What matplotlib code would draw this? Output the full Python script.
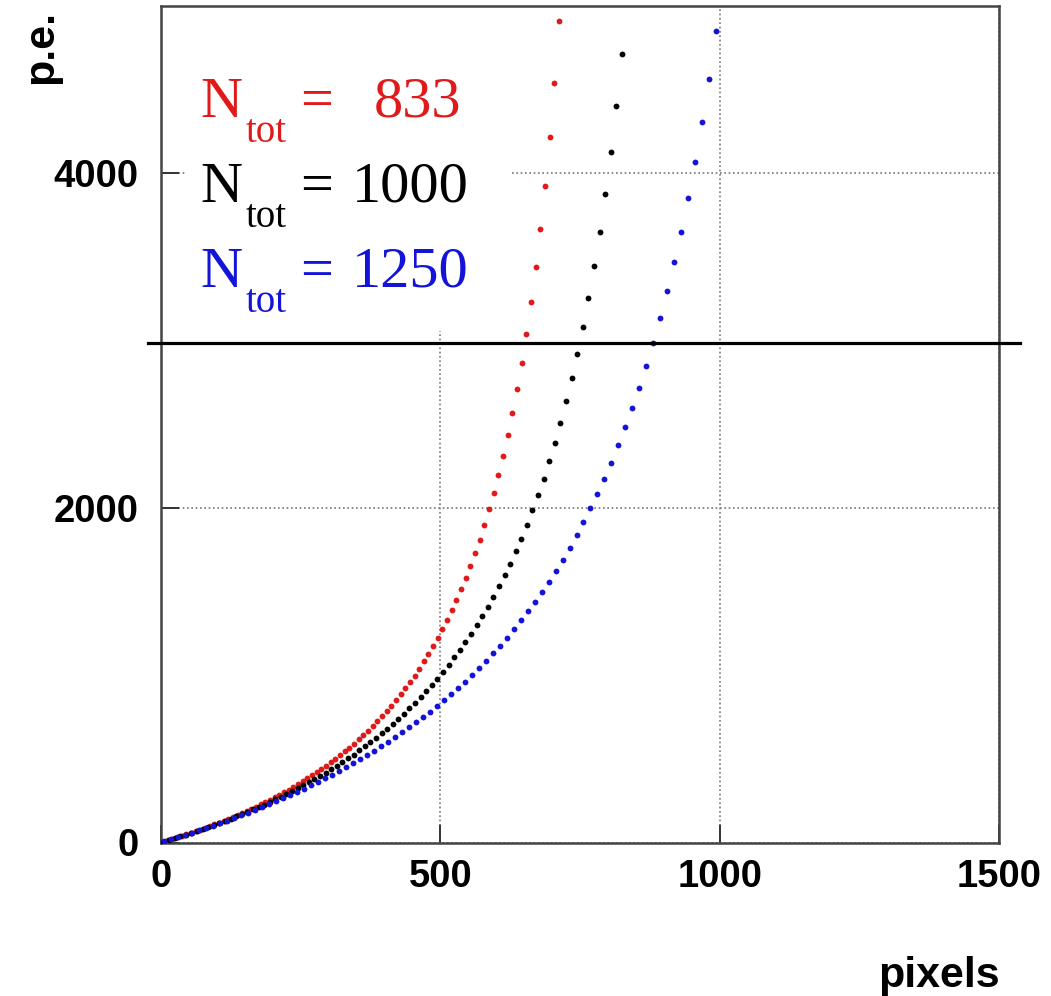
import matplotlib
matplotlib.use("Agg")
import matplotlib.pyplot as plt
from matplotlib.patches import Rectangle

# fired pixels vs. photo-electrons for three SiPM sizes
n_tot = [833, 1000, 1250]
colors = ["#e01a1a", "black", "#1414d8"]

pix_833 = [4.2, 12.5, 20.8, 29.2, 37.5, 45.8, 54.1, 62.5, 70.8, 79.1,
           87.5, 95.8, 104.1, 112.5, 120.8, 129.1, 137.4, 145.8, 154.1, 162.4,
           170.8, 179.1, 187.4, 195.8, 204.1, 212.4, 220.7, 229.1, 237.4, 245.7,
           254.1, 262.4, 270.7, 279.1, 287.4, 295.7, 304.0, 312.4, 320.7, 329.0,
           337.4, 345.7, 354.0, 362.4, 370.7, 379.0, 387.3, 395.7, 404.0, 412.3,
           420.7, 429.0, 437.3, 445.7, 454.0, 462.3, 470.6, 479.0, 487.3, 495.6,
           504.0, 512.3, 520.6, 529.0, 537.3, 545.6, 553.9, 562.3, 570.6, 578.9,
           587.3, 595.6, 603.9, 612.3, 620.6, 628.9, 637.2, 645.6, 653.9, 662.2,
           670.6, 678.9, 687.2, 695.6, 703.9, 712.2]
pe_833 = [4, 13, 21, 30, 39, 48, 58, 68, 77, 87,
          98, 108, 119, 130, 141, 153, 165, 177, 189, 202,
          215, 228, 242, 256, 270, 285, 300, 316, 332, 349,
          366, 383, 401, 420, 439, 458, 479, 500, 521, 544,
          567, 591, 616, 641, 668, 695, 724, 754, 784, 816,
          850, 885, 921, 958, 998, 1039, 1082, 1127, 1174, 1224,
          1276, 1331, 1388, 1449, 1513, 1581, 1654, 1730, 1811, 1898,
          1991, 2090, 2196, 2310, 2434, 2567, 2712, 2869, 3041, 3230,
          3439, 3670, 3927, 4215, 4541, 4912]

pix_1000 = [5, 15, 25, 35, 45, 55, 65, 75, 85, 95,
            105, 115, 125, 135, 145, 155, 165, 175, 185, 195,
            205, 215, 225, 235, 245, 255, 265, 275, 285, 295,
            305, 315, 325, 335, 345, 355, 365, 375, 385, 395,
            405, 415, 425, 435, 445, 455, 465, 475, 485, 495,
            505, 515, 525, 535, 545, 555, 565, 575, 585, 595,
            605, 615, 625, 635, 645, 655, 665, 675, 685, 695,
            705, 715, 725, 735, 745, 755, 765, 775, 785, 795,
            805, 815, 825]
pe_1000 = [5, 15, 26, 36, 47, 58, 70, 81, 93, 105,
           118, 130, 143, 156, 170, 183, 198, 212, 227, 242,
           258, 274, 290, 307, 325, 342, 361, 379, 398, 418,
           439, 460, 482, 504, 526, 550, 575, 600, 626, 653,
           681, 710, 739, 770, 802, 835, 869, 905, 942, 980,
           1020, 1062, 1106, 1150, 1198, 1247, 1299, 1353, 1410, 1469,
           1532, 1598, 1666, 1740, 1817, 1898, 1985, 2077, 2174, 2278,
           2390, 2509, 2636, 2774, 2922, 3082, 3255, 3445, 3651, 3878,
           4128, 4405, 4714]

pix_1250 = [6.25, 18.75, 31.25, 43.75, 56.25, 68.75, 81.25, 93.75, 106.25, 118.75,
            131.25, 143.75, 156.25, 168.75, 181.25, 193.75, 206.25, 218.75, 231.25, 243.75,
            256.25, 268.75, 281.25, 293.75, 306.25, 318.75, 331.25, 343.75, 356.25, 368.75,
            381.25, 393.75, 406.25, 418.75, 431.25, 443.75, 456.25, 468.75, 481.25, 493.75,
            506.25, 518.75, 531.25, 543.75, 556.25, 568.75, 581.25, 593.75, 606.25, 618.75,
            631.25, 643.75, 656.25, 668.75, 681.25, 693.75, 706.25, 718.75, 731.25, 743.75,
            756.25, 768.75, 781.25, 793.75, 806.25, 818.75, 831.25, 843.75, 856.25, 868.75,
            881.25, 893.75, 906.25, 918.75, 931.25, 943.75, 956.25, 968.75, 981.25, 993.75]
pe_1250 = [6, 19, 32, 45, 59, 73, 87, 101, 116, 131,
           147, 162, 179, 195, 212, 229, 247, 265, 284, 303,
           322, 342, 363, 384, 406, 428, 451, 474, 498, 523,
           549, 575, 602, 630, 658, 688, 719, 750, 783, 816,
           851, 887, 924, 962, 1002, 1044, 1086, 1131, 1177, 1225,
           1275, 1327, 1382, 1438, 1497, 1559, 1624, 1691, 1762, 1836,
           1915, 1997, 2083, 2175, 2271, 2373, 2481, 2596, 2718, 2848,
           2987, 3136, 3295, 3467, 3652, 3852, 4069, 4306, 4564, 4848]

threshold = 2985
x_ticks = [0, 500, 1000, 1500]
y_ticks = [0, 2000, 4000]

W, H = 1051, 996
fig = plt.figure(figsize=(W / 100, H / 100), dpi=100)
ax = fig.add_axes([160.7 / W, 1 - 842.5 / H, 838.6 / W, 836.5 / H])
ax.set_xlim(0, 1500)
ax.set_ylim(0, 5000)
ax.set_axisbelow(True)

sans = "Liberation Sans"
ax.set_xticks(x_ticks)
ax.set_yticks(y_ticks)
ax.tick_params(direction="in", length=13, width=1.4, color="#333333",
               labelsize=27.5, top=False, right=False)
ax.tick_params(axis="x", pad=12)
ax.tick_params(axis="y", pad=16)
for lab in ax.get_xticklabels() + ax.get_yticklabels():
    lab.set_fontfamily(sans)
    lab.set_fontweight("bold")
ax.grid(True, color="#777777", linestyle=(0, (1, 1.6)), linewidth=1.2)
for s in ax.spines.values():
    s.set_color("#444444")
    s.set_linewidth(1.8)

ax.set_xlabel("pixels", fontsize=31, fontweight="bold", family=sans, ha="right", va="center")
ax.xaxis.set_label_coords(1.0, -(976 - 842.5) / 836.5)
ax.set_ylabel("p.e.", fontsize=31, fontweight="bold", family=sans, ha="center", va="center")
ax.yaxis.set_label_coords((41 - 160.7) / 838.6, (842.5 - 47) / 836.5)

# white panel behind the labels
ax.add_patch(Rectangle((0.03, 0.611), 0.387, 0.389, transform=ax.transAxes,
                       facecolor="white", edgecolor="none", zorder=1))

for px, pe, c in zip([pix_833, pix_1000, pix_1250], [pe_833, pe_1000, pe_1250], colors):
    ax.plot(px, pe, linestyle="none", marker="o", markersize=4.2,
            markeredgewidth=0, color=c, zorder=3)

ax.plot([-23, 1537], [threshold, threshold], color="black", linewidth=2.3,
        clip_on=False, zorder=4)

serif = "Liberation Serif"
for i, (n, c) in enumerate(zip(n_tot, colors)):
    base = 116.7 + 85 * i
    fig.text(200 / W, 1 - base / H, "N", family=serif, fontsize=42, color=c, va="baseline")
    fig.text(246 / W, 1 - (base + 25) / H, "tot", family=serif, fontsize=28, color=c, va="baseline")
    fig.text(300 / W, 1 - base / H, "=", family=serif, fontsize=42, color=c, va="baseline")
    x0 = 374 if n == 833 else 352
    fig.text(x0 / W, 1 - base / H, str(n), family=serif, fontsize=42, color=c, va="baseline")

fig.savefig("out.png", dpi=100)
